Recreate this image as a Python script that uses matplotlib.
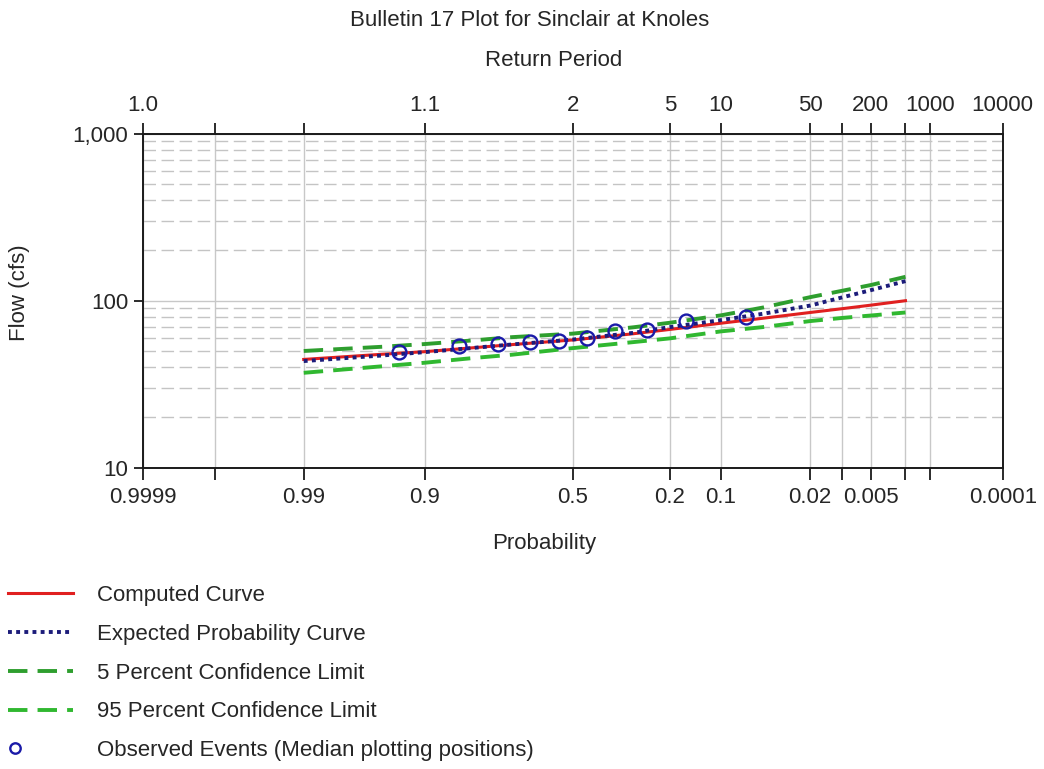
"""
Bulletin 17 frequency plot, Sinclair at Knoles
normal-probability x axis (exceedance), log flow y axis
"""
import math
from statistics import NormalDist

import numpy as np
import matplotlib
matplotlib.use("Agg")
import matplotlib.pyplot as plt
from matplotlib.legend_handler import HandlerLine2DCompound
from matplotlib.ticker import FixedLocator, FixedFormatter, NullLocator, NullFormatter, LogLocator

plt.rcParams["font.family"] = ["Liberation Sans", "DejaVu Sans"]
plt.rcParams["font.size"] = 16
TXT = "#262626"

# ── data (exceedance probability -> flow, cfs) ─────────────────────────
CURVE_P = [0.99, 0.95, 0.9, 0.8, 0.7, 0.5, 0.3, 0.2, 0.1, 0.05, 0.02, 0.01, 0.005, 0.002]
COMPUTED = [44.5, 47.8, 49.5, 52.4, 54.6, 58.2, 63.4, 67.3, 73.3, 78.5, 85.0, 89.5, 94.0, 100.0]
EXPECTED = [43.5, 47.0, 49.2, 52.3, 54.7, 58.5, 64.2, 69.5, 76.5, 83.5, 93.5, 104.5, 115.5, 131.0]
CL_05 = [50.0, 53.0, 55.0, 58.0, 60.5, 63.5, 69.3, 73.8, 81.7, 91.0, 105.0, 114.5, 124.0, 139.0]
CL_95 = [37.0, 40.5, 42.5, 45.5, 47.5, 52.0, 56.5, 59.5, 65.5, 69.5, 75.5, 78.8, 81.5, 85.0]

OBS_P = [0.933, 0.837, 0.740, 0.644, 0.548, 0.452, 0.356, 0.260, 0.163, 0.067]
OBS_Q = [49.5, 53.5, 55.2, 56.8, 57.2, 60.0, 65.4, 66.8, 75.6, 80.2]

PROB_TICKS = [0.9999, 0.999, 0.99, 0.9, 0.5, 0.2, 0.1, 0.02, 0.01, 0.005, 0.002, 0.001, 0.0001]
PROB_LABELS = ["0.9999", "", "0.99", "0.9", "0.5", "0.2", "0.1", "0.02", "", "0.005", "", "", "0.0001"]
RP_LABELS = ["1.0", "", "", "1.1", "2", "5", "10", "50", "", "200", "", "1000", "10000"]

Y_TICKS = [10, 100, 1000]
Y_LABELS = ["10", "100", "1,000"]


# ── normal probability scale (increasing in p, axis inverted by xlim) ─
_nd = NormalDist()
_inv = np.vectorize(lambda q: _nd.inv_cdf(q), otypes=[float])
_cdf = np.vectorize(lambda z: 0.5 * math.erfc(-z / math.sqrt(2.0)), otypes=[float])


def p_to_z(p):
    p = np.clip(np.asarray(p, dtype=float), 1e-10, 1 - 1e-10)
    return _inv(p)


def z_to_p(z):
    return _cdf(np.asarray(z, dtype=float))


class LeftMarker(HandlerLine2DCompound):
    def get_xdata(self, legend, xdescent, ydescent, width, height, fontsize):
        xdata, _ = super().get_xdata(legend, xdescent, ydescent, width, height, fontsize)
        return xdata, np.array([-xdescent + 0.11 * width])


W, H = 1044, 769
fig = plt.figure(figsize=(W / 100, H / 100), dpi=100)
ax = fig.add_axes([142.7 / W, 1 - 467.7 / H, 860 / W, 334 / H])

ax.set_xscale("function", functions=(p_to_z, z_to_p))
ax.set_yscale("log")
ax.set_xlim(0.9999, 0.0001)
ax.set_ylim(10, 1000)

# grid
ax.xaxis.set_major_locator(FixedLocator(PROB_TICKS))
ax.xaxis.set_major_formatter(FixedFormatter(PROB_LABELS))
ax.xaxis.set_minor_locator(NullLocator())
ax.yaxis.set_major_locator(FixedLocator(Y_TICKS))
ax.yaxis.set_major_formatter(FixedFormatter(Y_LABELS))
ax.yaxis.set_minor_locator(LogLocator(base=10, subs=np.arange(2, 10)))
ax.yaxis.set_minor_formatter(NullFormatter())
ax.grid(True, axis="x", which="major", color="#c8c8c8", lw=1.0)
ax.grid(True, axis="y", which="major", color="#c8c8c8", lw=1.0)
ax.grid(True, axis="y", which="minor", color="#c4c4c4", lw=1.0, dashes=(9, 4))
ax.set_axisbelow(True)

ax.tick_params(axis="x", which="major", direction="out", length=8.5, width=1.3,
               pad=5.5, labelsize=16, colors="#1a1a1a", labelcolor=TXT)
ax.tick_params(axis="y", which="major", direction="out", length=6.5, width=1.3,
               pad=4, labelsize=16, colors="#1a1a1a", labelcolor=TXT)
ax.tick_params(axis="y", which="minor", length=0)
for s in ax.spines.values():
    s.set_linewidth(1.4)
    s.set_color("#1a1a1a")

# ── curves ─────────────────────────────────────────────────────────────
ax.plot(CURVE_P, COMPUTED, color="#e02020", lw=2.2, label="Computed Curve", zorder=3)
ax.plot(CURVE_P, EXPECTED, color="#1c1c7a", lw=2.8, ls=(0, (1, 1.1)),
        label="Expected Probability Curve", zorder=4)
ax.plot(CURVE_P, CL_05, color="#2e9e2e", lw=2.8, dashes=(5, 2.6),
        label="5 Percent Confidence Limit", zorder=2)
ax.plot(CURVE_P, CL_95, color="#30b830", lw=2.8, dashes=(5, 2.6),
        label="95 Percent Confidence Limit", zorder=2)
ax.plot(OBS_P, OBS_Q, ls="none", marker="o", ms=10, mfc="none", mec="#1a1aa8", mew=1.7,
        label="Observed Events (Median plotting positions)", zorder=5)

# ── top axis: return period ────────────────────────────────────────────
ax2 = ax.twiny()
ax2.set_xscale("function", functions=(p_to_z, z_to_p))
ax2.set_xlim(0.9999, 0.0001)
ax2.xaxis.set_major_locator(FixedLocator(PROB_TICKS))
ax2.xaxis.set_major_formatter(FixedFormatter(RP_LABELS))
ax2.xaxis.set_minor_locator(NullLocator())
ax2.tick_params(axis="x", which="major", direction="out", length=8, width=1.3,
                pad=4.5, labelsize=16, colors="#1a1a1a", labelcolor=TXT)
for s in ax2.spines.values():
    s.set_visible(False)

# ── text ───────────────────────────────────────────────────────────────
fig.text(530 / W, 1 - 20 / H, "Bulletin 17 Plot for Sinclair at Knoles",
         ha="center", va="center", fontsize=16, color=TXT)
fig.text(554 / W, 1 - 60 / H, "Return Period", ha="center", va="center", fontsize=16, color=TXT)
fig.text(544 / W, 1 - 543 / H, "Probability", ha="center", va="center", fontsize=16, color=TXT)
fig.text(20 / W, 1 - 293 / H, "Flow (cfs)", ha="center", va="center", rotation=90,
         fontsize=16, color=TXT)

handles, labels = ax.get_legend_handles_labels()
fig.legend(handles, labels, loc="upper left", bbox_to_anchor=(8 / W, 1 - 585 / H),
           frameon=False, borderpad=0, borderaxespad=0, handlelength=2.93,
           handletextpad=1.08, labelspacing=0.80, fontsize=16, labelcolor=TXT,
           markerscale=0.75, handler_map={handles[-1]: LeftMarker(numpoints=1)})

fig.savefig("out.png", dpi=100)
